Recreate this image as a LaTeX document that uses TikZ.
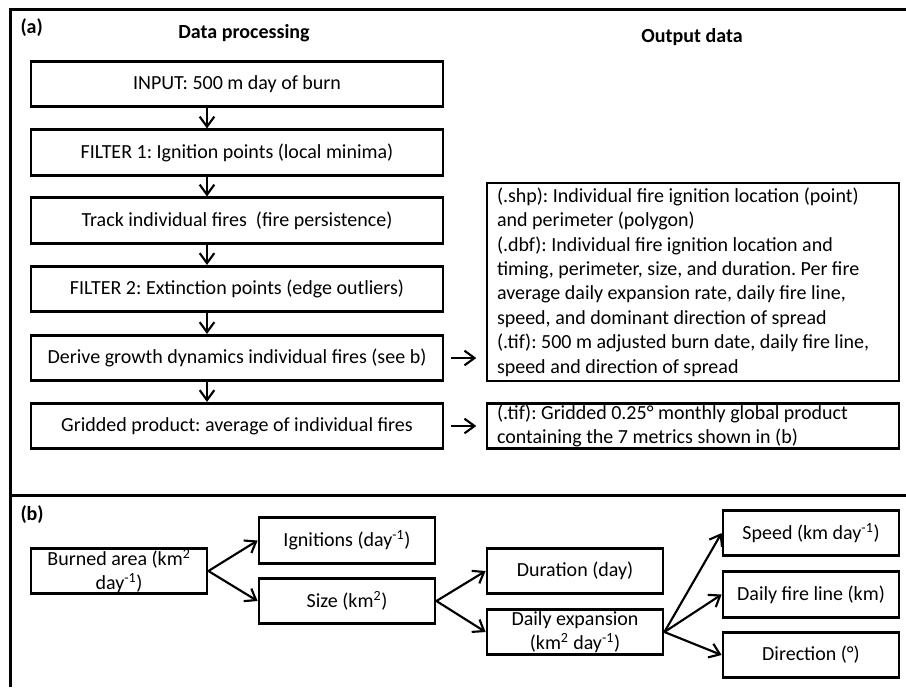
\documentclass[tikz,border=0pt]{standalone}
\usepackage{fontspec}
\setmainfont{Carlito}
\usetikzlibrary{arrows.meta}
\frenchspacing

\tikzset{every picture/.style={line width=0.75pt}}
\tikzset{
  txt/.style={font=\fontsize{15}{18.3}\selectfont},
  procbox/.style={txt, draw, line width=2.1pt, minimum width=309pt, minimum height=34pt, inner sep=0pt},
  outbox/.style={txt, draw, line width=2.1pt, text width=294pt, align=flush left, inner xsep=7.5pt, inner ysep=0pt},
  metbox/.style={txt, draw, line width=2.1pt, minimum width=132pt, minimum height=34pt, align=center, inner sep=0pt},
  heading/.style={txt, font=\fontsize{15}{18.3}\selectfont\bfseries, inner sep=0.75pt},
  flow/.style={line width=1.6pt, -{Straight Barb[length=7.5pt,width=11pt,line width=1.6pt]}},
}

\begin{document}
\begin{tikzpicture}[x=0.75pt,y=0.75pt,yscale=-1,xscale=1]
\useasboundingbox (0,0) rectangle (906,687);

%Frame
\draw [line width=2.25pt] (10,687) -- (10,9) -- (906,9) ;
\draw [line width=2.25pt] (10,495) -- (906,495) ;

% Text Node
\node [heading, anchor=west] (lbla) at (19,28) {(a)};
% Text Node
\node [heading] (hproc) at (244,33) {Data processing};
% Text Node
\node [heading] (hout) at (692,37) {Output data};
% Text Node
\node [heading, anchor=west] (lblb) at (19,515) {(b)};

% Processing chain
\node [procbox] (input) at (237,84) {INPUT: 500 m day of burn};
\node [procbox] (filt1) at (237,152.5) {FILTER 1: Ignition points (local minima)};
\node [procbox] (track) at (237,220.5) {Track individual fires\ \ (fire persistence)};
\node [procbox] (filt2) at (237,289) {FILTER 2: Extinction points (edge outliers)};
\node [procbox] (grow) at (237,358) {Derive growth dynamics individual fires (see b)};
\node [procbox] (grid) at (237,426) {Gridded product: average of individual fires};

% Output data
\node [outbox, minimum height=148.5pt] (outind) at (693,282) {(.shp): Individual fire ignition location (point)\\
and perimeter (polygon)\\
(.dbf): Individual fire ignition location and\\
timing, perimeter, size, and duration. Per fire\\
average daily expansion rate, daily fire line,\\
speed, and dominant direction of spread\\
(.tif): 500 m adjusted burn date, daily fire line,\\
speed and direction of spread};
\node [outbox, minimum height=34pt] (outgrid) at (693,426) {(.tif): Gridded 0.25° monthly global product\\
containing the 7 metrics shown in (b)};

%Straight Lines
\coordinate (ax) at (207,0);
\draw [flow] (input.south -| ax) -- (filt1.north -| ax) ;
\draw [flow] (filt1.south -| ax) -- (track.north -| ax) ;
\draw [flow] (track.south -| ax) -- (filt2.north -| ax) ;
\draw [flow] (filt2.south -| ax) -- (grow.north -| ax) ;
\draw [flow] (grow.south -| ax) -- (grid.north -| ax) ;
\draw [flow, shorten <=5pt, shorten >=7pt] (grow.east) -- (grow.east -| outind.west) ;
\draw [flow, shorten <=5pt, shorten >=7pt] (grid.east) -- (outgrid.west) ;

% Metrics
\node [metbox] (burn) at (119,571) {Burned area (km\textsuperscript{2}\\day\textsuperscript{-1})};
\node [metbox] (ign) at (347,540.5) {Ignitions (day\textsuperscript{-1})};
\node [metbox] (size) at (347,601) {Size (km\textsuperscript{2})};
\node [metbox] (dur) at (575,571) {Duration (day)};
\node [metbox] (dexp) at (575,632) {Daily expansion\\(km\textsuperscript{2} day\textsuperscript{-1})};
\node [metbox] (speed) at (811,533) {Speed (km day\textsuperscript{-1})};
\node [metbox] (fline) at (811,594.5) {Daily fire line (km)};
\node [metbox] (dir) at (811,655) {Direction (°)};

%Straight Lines
\draw [flow] (burn.east) -- (ign.west) ;
\draw [flow] (burn.east) -- (size.west) ;
\draw [flow] (size.east) -- (dur.west) ;
\draw [flow] (size.east) -- (dexp.west) ;
\draw [flow] (dexp.east) -- (speed.west) ;
\draw [flow] (dexp.east) -- (fline.west) ;
\draw [flow] (dexp.east) -- (dir.west) ;

\end{tikzpicture}
\end{document}
